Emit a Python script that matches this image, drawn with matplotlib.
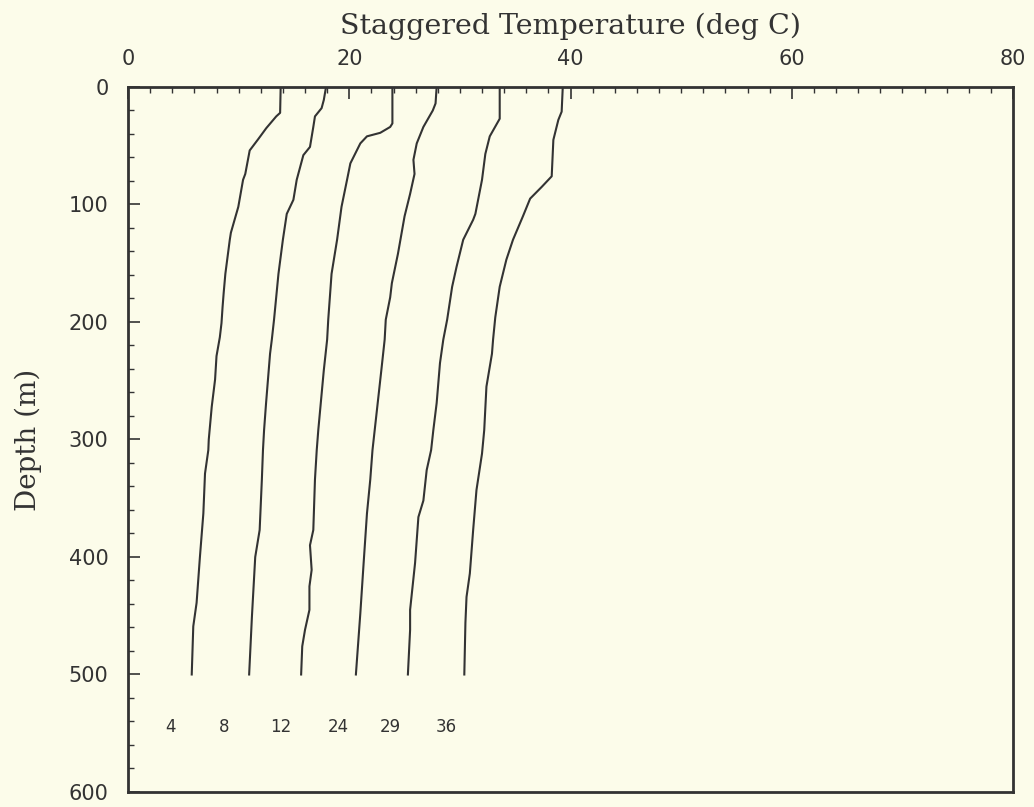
import matplotlib

matplotlib.use("Agg")
import matplotlib.pyplot as plt
from matplotlib.ticker import MultipleLocator

# Staggered temperature profiles (deg C) vs depth (m)
profile_names = ["4", "8", "12", "24", "29", "36"]

depth_1 = [0, 22, 25, 35, 44, 54, 74, 79, 102, 124, 130, 159, 175, 187, 201, 213, 229, 249, 272, 300, 309, 329, 363, 400, 439, 459, 500]
temp_1 = [13.8, 13.75, 13.4, 12.5, 11.8, 11.0, 10.6, 10.4, 9.97, 9.3, 9.2, 8.8, 8.65, 8.55, 8.45, 8.3, 8.0, 7.87, 7.57, 7.3, 7.26, 6.96, 6.81, 6.5, 6.2, 5.9, 5.76]

depth_2 = [0, 11, 18, 25, 34, 51, 58, 79, 96, 108, 130, 159, 198, 215, 227, 269, 292, 309, 334, 377, 400, 434, 451, 500]
temp_2 = [17.9, 17.7, 17.5, 16.9, 16.75, 16.45, 15.85, 15.25, 14.95, 14.35, 14.0, 13.6, 13.2, 13.0, 12.84, 12.48, 12.3, 12.2, 12.1, 11.9, 11.5, 11.3, 11.2, 10.95]

depth_3 = [0, 31, 34, 39, 42, 48, 65, 79, 102, 130, 159, 198, 215, 241, 292, 309, 334, 377, 390, 411, 425, 445, 462, 476, 500]
temp_3 = [23.9, 23.9, 23.7, 22.8, 21.6, 21.0, 20.1, 19.8, 19.3, 18.9, 18.4, 18.1, 18.0, 17.7, 17.2, 17.06, 16.9, 16.75, 16.45, 16.6, 16.4, 16.4, 16.0, 15.75, 15.65]

depth_4 = [0, 14, 20, 34, 48, 62, 74, 91, 110, 142, 167, 179, 198, 215, 241, 292, 309, 334, 363, 405, 448, 500]
temp_4 = [27.9, 27.8, 27.55, 26.7, 26.1, 25.8, 25.9, 25.5, 25.0, 24.4, 23.85, 23.7, 23.3, 23.2, 22.9, 22.3, 22.1, 21.9, 21.6, 21.3, 21.0, 20.6]

depth_5 = [0, 27, 42, 57, 79, 108, 113, 130, 153, 170, 198, 215, 235, 269, 292, 309, 326, 352, 366, 405, 445, 462, 500]
temp_5 = [33.6, 33.6, 32.7, 32.3, 32.0, 31.4, 31.2, 30.3, 29.7, 29.3, 28.85, 28.5, 28.2, 27.9, 27.6, 27.4, 27.0, 26.7, 26.25, 25.95, 25.5, 25.5, 25.3]

depth_6 = [0, 21, 28, 45, 76, 85, 95, 110, 130, 147, 170, 196, 215, 227, 255, 292, 312, 343, 377, 414, 434, 456, 500]
temp_6 = [39.3, 39.2, 38.9, 38.45, 38.3, 37.4, 36.35, 35.7, 34.8, 34.2, 33.6, 33.2, 33.0, 32.9, 32.4, 32.2, 32.0, 31.5, 31.2, 30.9, 30.6, 30.5, 30.4]

depths = [depth_1, depth_2, depth_3, depth_4, depth_5, depth_6]
temps = [temp_1, temp_2, temp_3, temp_4, temp_5, temp_6]

# where the profile labels sit (deg C, m)
label_x = [3.8, 8.7, 13.8, 19.0, 23.7, 28.8]
label_depth = 545

bg = "#fcfcea"
ink = "#333333"

fig = plt.figure(figsize=(10.34, 8.07), dpi=100, facecolor=bg)
ax = fig.add_axes([0.1238, 0.0186, 0.8559, 0.8736], facecolor=bg)

for d, t in zip(depths, temps):
    ax.plot(t, d, color=ink, lw=1.5)

for name, x in zip(profile_names, label_x):
    ax.text(x, label_depth, name, ha="center", va="center", fontsize=12,
            color=ink)

ax.set_xlim(0, 80)
ax.set_ylim(600, 0)

# x axis lives on top
ax.xaxis.set_ticks_position("top")
ax.xaxis.set_label_position("top")
ax.xaxis.set_major_locator(MultipleLocator(20))
ax.xaxis.set_minor_locator(MultipleLocator(2))
ax.yaxis.set_major_locator(MultipleLocator(100))
ax.yaxis.set_minor_locator(MultipleLocator(20))

ax.tick_params(axis="x", which="major", direction="in", length=8.5, width=1.2,
               pad=13, labelsize=15, colors=ink)
ax.tick_params(axis="x", which="minor", direction="in", length=4, width=1.0,
               colors=ink)
ax.tick_params(axis="y", which="major", direction="in", length=8.5, width=1.2,
               pad=14, labelsize=15, colors=ink)
ax.tick_params(axis="y", which="minor", direction="in", length=4, width=1.0,
               colors=ink)

ax.set_xlabel("Staggered Temperature (deg C)", family="DejaVu Serif",
              fontsize=20.5, color=ink, labelpad=11)
ax.set_ylabel("Depth (m)", family="DejaVu Serif", fontsize=20, color=ink,
              labelpad=19)

for side in ["top", "bottom", "left", "right"]:
    ax.spines[side].set_color(ink)
    ax.spines[side].set_linewidth(2)

fig.savefig("out.png", dpi=100, facecolor=bg)
